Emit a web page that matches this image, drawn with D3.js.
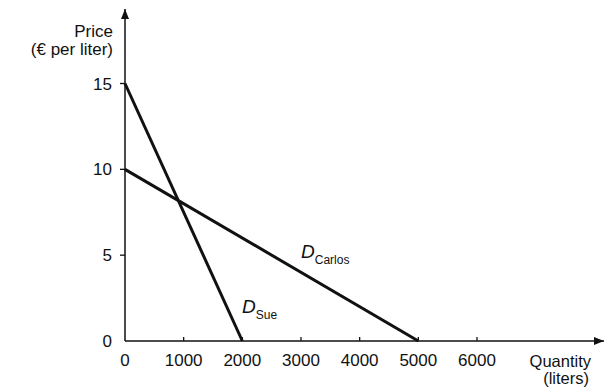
<!DOCTYPE html>
<html>
<head>
<meta charset="utf-8">
<script src="https://cdn.jsdelivr.net/npm/d3@7"></script>
<style>
  html, body { margin: 0; padding: 0; background: #fff; }
  svg { display: block; }
  text { font-family: "Liberation Sans", Arial, sans-serif; fill: #111; }
</style>
</head>
<body>
<div id="chart"></div>
<script>
const xTicks = [0, 1000, 2000, 3000, 4000, 5000, 6000];
const yTicks = [0, 5, 10, 15];
const sueQuantity = [0, 2000];
const suePrice = [15, 0];
const carlosQuantity = [0, 5000];
const carlosPrice = [10, 0];
const curveNames = ["Sue", "Carlos"];

const W = 615, H = 391;
const svg = d3.select("#chart").append("svg").attr("width", W).attr("height", H);

const x = d3.scaleLinear().domain([0, 6000]).range([125, 477]);
const y = d3.scaleLinear().domain([0, 15]).range([341, 83.5]);

const ink = "#111";

// axes lines with arrows
const defs = svg.append("defs");
defs.append("marker").attr("id", "arr").attr("viewBox", "0 0 10 10")
  .attr("refX", 10).attr("refY", 5).attr("markerWidth", 10).attr("markerHeight", 10)
  .attr("markerUnits", "userSpaceOnUse").attr("orient", "auto")
  .append("path").attr("d", "M0,1 L10,5 L0,9 Z").attr("fill", ink);

svg.append("line").attr("x1", x(0)).attr("y1", y(0)).attr("x2", 604).attr("y2", y(0))
  .attr("stroke", ink).attr("stroke-width", 1.5).attr("marker-end", "url(#arr)");
svg.append("line").attr("x1", x(0)).attr("y1", y(0)).attr("x2", x(0)).attr("y2", 9)
  .attr("stroke", ink).attr("stroke-width", 1.5).attr("marker-end", "url(#arr)");

// x ticks
const xg = svg.append("g");
xg.selectAll("line").data(xTicks.filter(d => d > 0)).join("line")
  .attr("x1", d => x(d)).attr("x2", d => x(d)).attr("y1", y(0)).attr("y2", y(0) - 4)
  .attr("stroke", ink).attr("stroke-width", 1.3);
xg.selectAll("text").data(xTicks).join("text")
  .attr("x", d => x(d)).attr("y", 366).attr("text-anchor", "middle")
  .attr("font-size", 17).text(d => d);

// y ticks
const yg = svg.append("g");
yg.selectAll("line").data(yTicks.filter(d => d > 0)).join("line")
  .attr("x1", x(0) - 5).attr("x2", x(0)).attr("y1", d => y(d)).attr("y2", d => y(d))
  .attr("stroke", ink).attr("stroke-width", 1.3);
yg.selectAll("text").data(yTicks).join("text")
  .attr("x", 112).attr("y", d => y(d)).attr("dy", "0.36em").attr("text-anchor", "end")
  .attr("font-size", 17).text(d => d);

// axis titles
svg.append("text").attr("x", 113).attr("y", 37).attr("text-anchor", "end").attr("font-size", 17).text("Price");
svg.append("text").attr("x", 113).attr("y", 55).attr("text-anchor", "end").attr("font-size", 17).text("(€ per liter)");
svg.append("text").attr("x", 591).attr("y", 367).attr("text-anchor", "end").attr("font-size", 16.5).text("Quantity");
svg.append("text").attr("x", 589).attr("y", 384).attr("text-anchor", "end").attr("font-size", 16.5).text("(liters)");

// demand lines
const line = d3.line().x(d => x(d[0])).y(d => y(d[1]));
const sue = d3.zip(sueQuantity, suePrice);
const carlos = d3.zip(carlosQuantity, carlosPrice);
svg.append("path").attr("d", line(carlos)).attr("fill", "none").attr("stroke", ink).attr("stroke-width", 3);
svg.append("path").attr("d", line(sue)).attr("fill", "none").attr("stroke", ink).attr("stroke-width", 3);

// labels
function dLabel(px, py, name) {
  const t = svg.append("text").attr("x", px).attr("y", py).attr("font-size", 19);
  t.append("tspan").attr("font-style", "italic").text("D");
  t.append("tspan").attr("font-size", 12).attr("dy", 6).text(name);
}
dLabel(301, 258, curveNames[1]);
dLabel(242, 313, curveNames[0]);
</script>
</body>
</html>
